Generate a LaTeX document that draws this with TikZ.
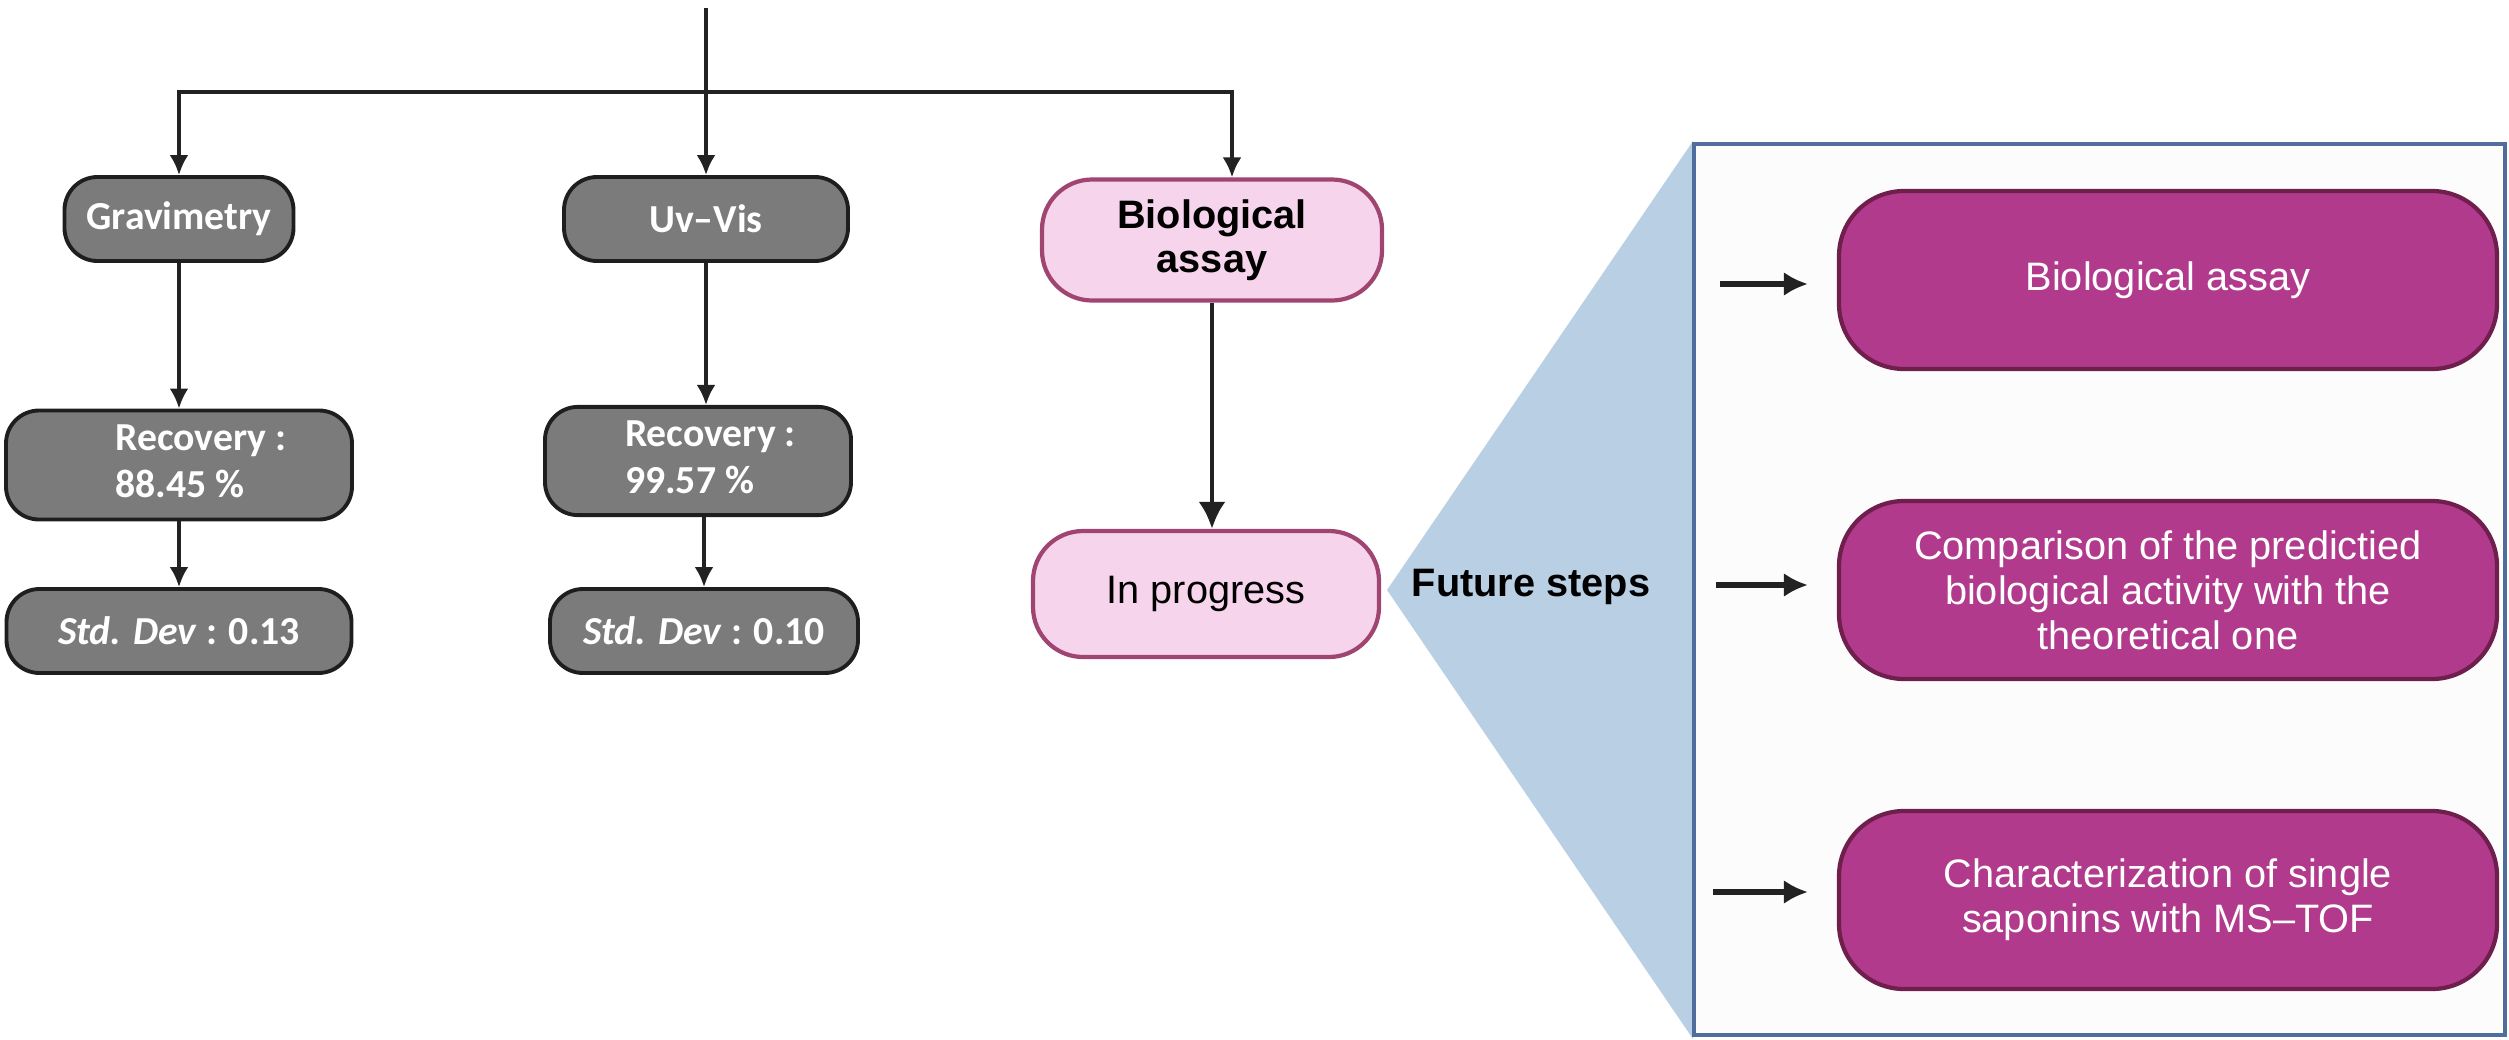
\documentclass[tikz,border=0pt]{standalone}
\usepackage{fontspec}
\usepackage{tikz}
\usetikzlibrary{arrows.meta,positioning}
\setmainfont{Liberation Sans}
\newfontfamily\calib{Carlito}

\definecolor{grisbox}{HTML}{7B7B7B}
\definecolor{grisline}{HTML}{1E1E1E}
\definecolor{rosabox}{HTML}{F6D5EC}
\definecolor{rosaline}{HTML}{A04472}
\definecolor{moradobox}{HTML}{B13A8D}
\definecolor{moradoline}{HTML}{6E1F4C}
\definecolor{azulclaro}{HTML}{B9CFE3}
\definecolor{azulborde}{HTML}{4F6E9E}
\definecolor{blancobox}{HTML}{FCFCFC}
\definecolor{negro}{HTML}{222222}

\begin{document}
\begin{tikzpicture}[
  gris/.style={rounded corners=0.33cm, draw=grisline, fill=grisbox, line width=1.1pt, text=white,
    font=\calib\bfseries\fontsize{11.3}{13.4}\selectfont, minimum height=0.84cm, inner sep=2pt},
  rosa/.style={rounded corners=0.5cm, draw=rosaline, fill=rosabox, line width=1.2pt, align=center,
    font=\fontsize{11.3}{12.5}\selectfont, minimum width=3.4cm},
  morado/.style={rounded corners=0.65cm, draw=moradoline, fill=moradobox, line width=1.2pt, text=white,
    align=center, minimum width=6.58cm, minimum height=1.78cm, font=\fontsize{11.3}{12.8}\selectfont},
  flecha/.style={draw=negro, line width=1.05pt, -{Latex[length=0.2cm,width=0.19cm]}},
  flechagorda/.style={draw=negro, line width=1.4pt, -{Latex[length=0.27cm,width=0.27cm]}},
  flechota/.style={draw=negro, line width=1.6pt, -{Latex[length=0.24cm,width=0.24cm]}, shorten >=0.29cm}]
\useasboundingbox (0,0) rectangle (25.09,-10.39);

\node[gris, minimum width=2.29cm](Grav) at (1.79,-2.19) {Gravimetry};
\node[gris, minimum width=2.84cm](Uv) at (7.06,-2.19) {Uv\textendash Vis};
\node[rosa, minimum height=1.21cm](Bio) at (12.12,-2.40) {\textbf{Biological}\\\textbf{assay}};
\node[rosa, minimum width=3.46cm, minimum height=1.26cm](Prog) at (12.06,-5.94) {In progress};

\node[gris, minimum width=3.46cm, minimum height=1.09cm](Rec1) at (1.79,-4.65)
	{\hspace*{0.44cm}\begin{tabular}{@{}l@{}}Recovery :\\88.45 \%\end{tabular}};
\node[gris, minimum width=3.06cm, minimum height=0.85cm](Rec2) at (6.98,-4.61)
	{\hspace*{0.25cm}\begin{tabular}{@{}l@{}}Recovery :\\99.57 \%\end{tabular}};
\node[gris, minimum width=3.45cm](Std1) at (1.79,-6.31) {\textit{Std. Dev} : 0.13};
\node[gris, minimum width=3.08cm](Std2) at (7.04,-6.31) {\textit{Std. Dev} : 0.10};

% ramas de arriba
\coordinate (Top) at (7.06,-0.08);
\coordinate (Rama) at (7.06,-0.92);
\coordinate (RamaBio) at (12.32,-0.92);
	\draw[flecha] (Top) -- (Uv);
	\draw[flecha] (Rama) -| (Grav.north);
	\draw[flecha] (Rama) -- (RamaBio) -- (RamaBio |- Bio.north);
	\draw[flecha] (Grav) -- (Rec1);
	\draw[flecha] (Uv) -- (Uv |- Rec2.north);
	\draw[flecha] (Rec1) -- (Std1);
	\draw[flecha] (Std2 |- Rec2.south) -- (Std2);
	\draw[flechagorda] (Bio) -- (Bio |- Prog.north);

% futuros pasos
\coordinate (Pico) at (13.87,-5.90);
\fill[azulclaro] (Pico) -- (16.93,-1.41) -- (16.93,-10.39) -- cycle;
\draw[draw=azulborde, fill=blancobox, line width=1.3pt] (16.94,-1.44) rectangle (25.05,-10.35);
\node[font=\bfseries\fontsize{11.3}{13}\selectfont](Fut) at (15.31,-5.87) {Future steps};

\node[morado](Paso1) at (21.68,-2.80) {Biological assay};
\node[morado](Paso2) at (21.68,-5.90) {Comparison of the predictied\\biological activity with the\\theoretical one};
\node[morado](Paso3) at (21.68,-9.00) {Characterization of single\\saponins with MS--TOF};

\coordinate (F1) at (17.20,-2.84);
\coordinate (F2) at (17.16,-5.85);
\coordinate (F3) at (17.13,-8.92);
	\draw[flechota] (F1) -- (F1 -| Paso1.west);
	\draw[flechota] (F2) -- (F2 -| Paso2.west);
	\draw[flechota] (F3) -- (F3 -| Paso3.west);
\end{tikzpicture}
\end{document}
